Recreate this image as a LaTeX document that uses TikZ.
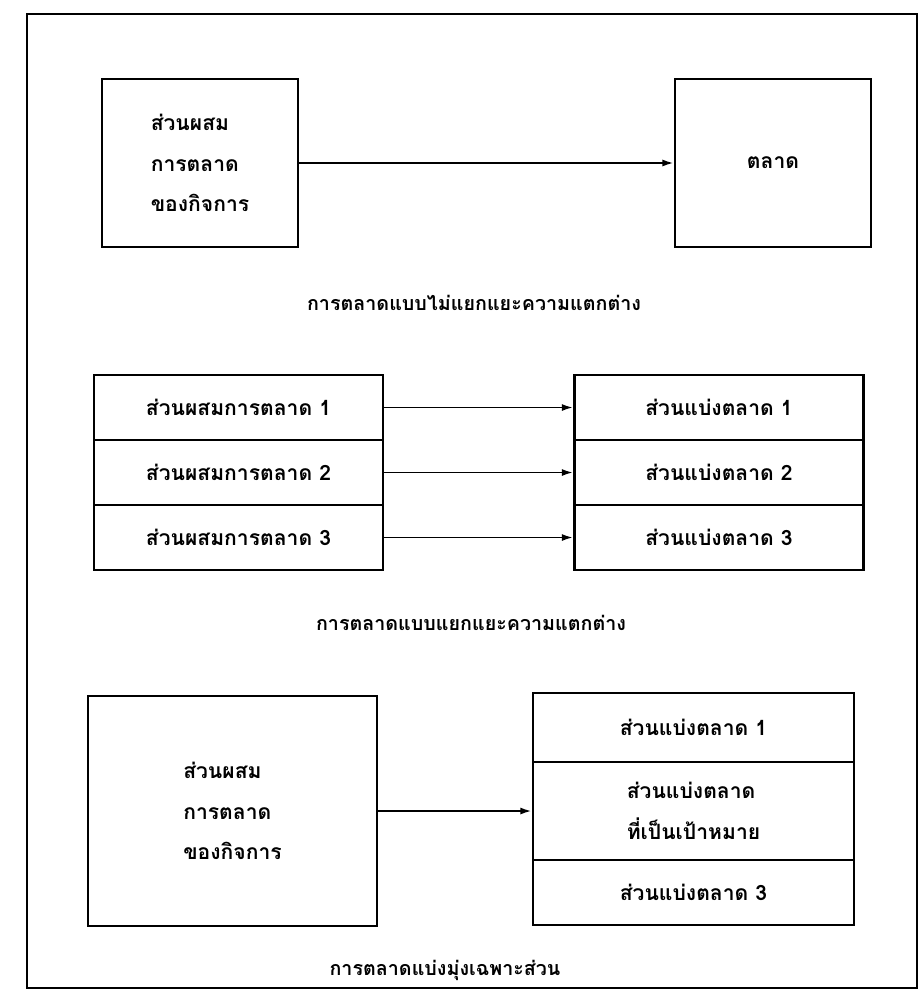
\documentclass[tikz,border=0pt]{standalone}
\usepackage{fontspec}
\newfontfamily\thaifont[Script=Thai]{Loma}
\usetikzlibrary{arrows.meta}
\begin{document}
\begin{tikzpicture}[x=0.025cm,y=-0.025cm,
    txt/.style={font=\thaifont\bfseries\fontsize{15}{29}\selectfont},
    captxt/.style={font=\thaifont\bfseries\fontsize{14}{17}\selectfont},
    box/.style={txt,draw,line width=1.9pt,inner sep=0pt,align=left},
    arr/.style={line width=1.4pt,-{Latex[length=8pt,width=5pt]}}]
  \useasboundingbox (0,0) rectangle (924,998);
  \draw[line width=1.9pt] (27,14) rectangle (917,988);
  % top
  \node[box,minimum width=4.9cm,minimum height=4.2cm] (a1) at (200,163) {ส่วนผสม\\การตลาด\\ของกิจการ};
  \node[box,minimum width=4.9cm,minimum height=4.2cm] (b1) at (773,163) {ตลาด};
  \node[captxt] (cap1) at (474,303) {การตลาดแบบไม่แยกแยะความแตกต่าง};
  \draw[arr] (a1) -- (b1);
  % middle
  \foreach \i/\y in {1/407.5,2/472.5,3/537.5}{
    \node[box,minimum width=7.225cm,minimum height=1.625cm] (l\i) at (238.5,\y) {ส่วนผสมการตลาด \i};
    \node[box,minimum width=7.225cm,minimum height=1.625cm] (r\i) at (719,\y) {ส่วนแบ่งตลาด \i};
    \draw[arr] (l\i) -- (r\i);
  }
  \node[captxt] (cap2) at (471,623) {การตลาดแบบแยกแยะความแตกต่าง};
  % bottom
  \node[box,minimum width=7.225cm,minimum height=5.75cm] (c1) at (232.5,811) {ส่วนผสม\\การตลาด\\ของกิจการ};
  \node[box,minimum width=8.025cm,minimum height=1.725cm] (d1) at (693.5,727.5) {ส่วนแบ่งตลาด 1};
  \node[box,minimum width=8.025cm,minimum height=2.45cm] (d2) at (693.5,811) {ส่วนแบ่งตลาด\\ที่เป็นเป้าหมาย};
  \node[box,minimum width=8.025cm,minimum height=1.625cm] (d3) at (693.5,892.5) {ส่วนแบ่งตลาด 3};
  \node[captxt] (cap3) at (445,970) {การตลาดแบ่งมุ่งเฉพาะส่วน};
  \draw[arr] (c1) -- (d2);
\end{tikzpicture}
\end{document}
